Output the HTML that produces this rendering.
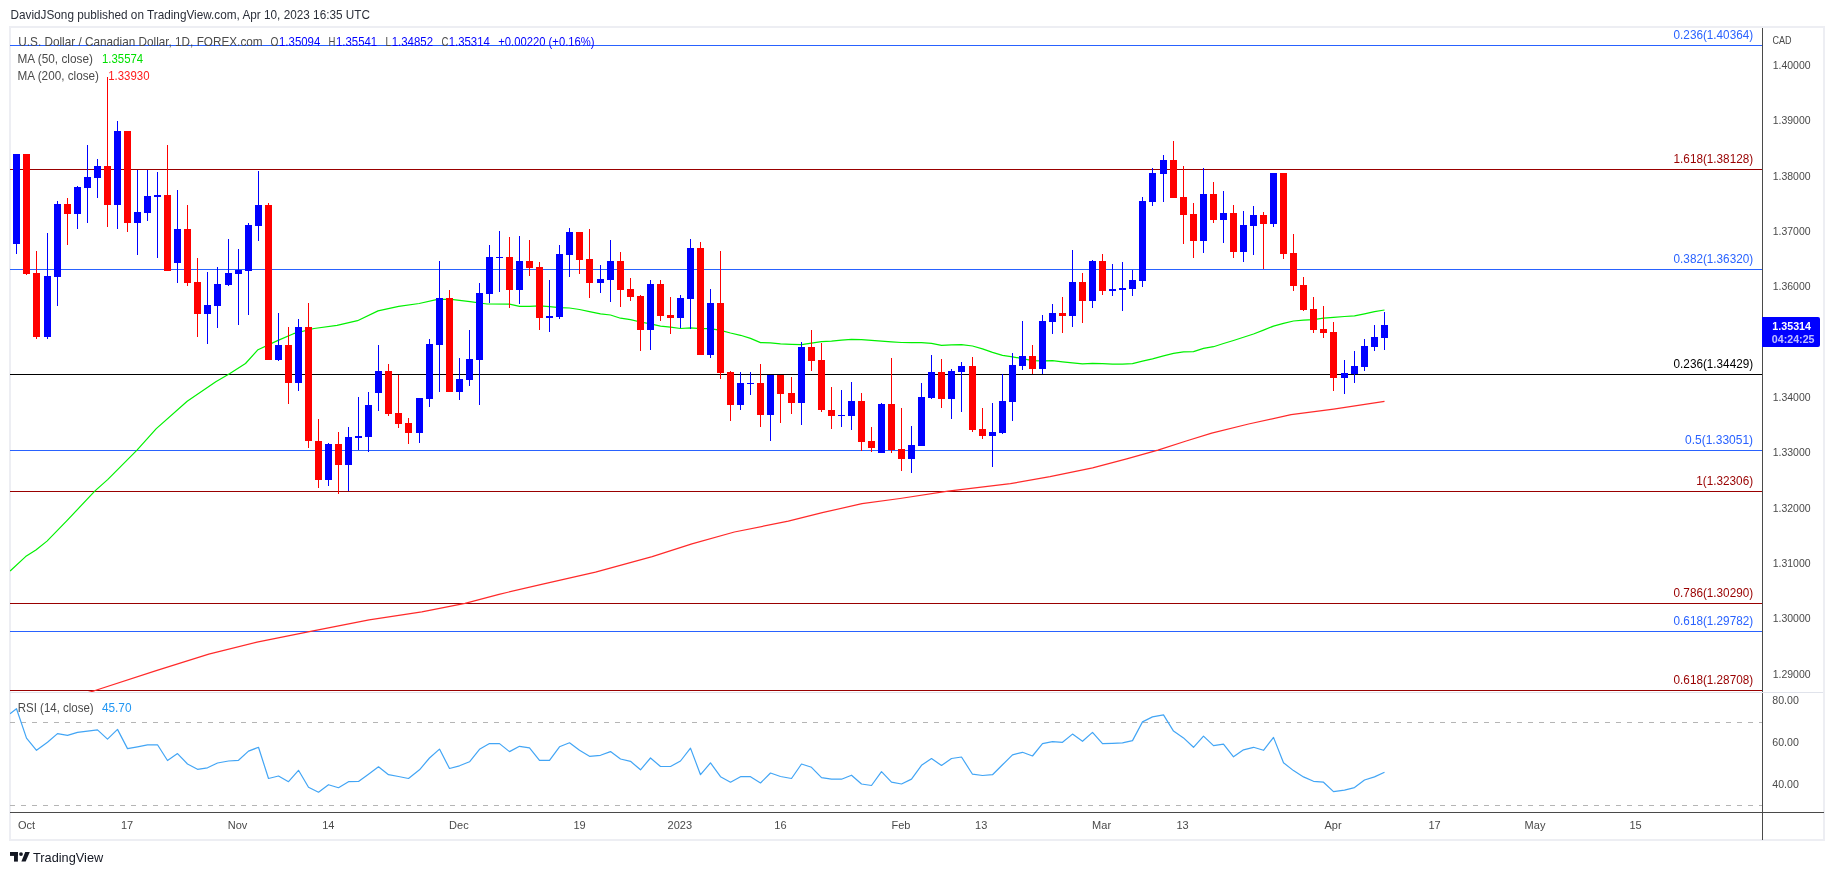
<!DOCTYPE html><html><head><meta charset="utf-8"><style>html,body{margin:0;padding:0;background:#fff;width:1834px;height:875px;overflow:hidden}svg{display:block;will-change:transform}text{font-family:"Liberation Sans", sans-serif}</style></head><body>
<svg width="1834" height="875" viewBox="0 0 1834 875">
<defs><clipPath id="mp"><rect x="10" y="28" width="1752" height="664"/></clipPath><clipPath id="rp"><rect x="10" y="693" width="1752" height="119"/></clipPath></defs>
<text x="10.5" y="18.7" font-size="12.8" fill="#2a2e39" textLength="359.5" lengthAdjust="spacingAndGlyphs">DavidJSong published on TradingView.com, Apr 10, 2023 16:35 UTC</text>
<g shape-rendering="crispEdges"><rect x="10" y="26" width="1815" height="2" fill="#edeef3"/><rect x="10" y="839" width="1815" height="2" fill="#edeef3"/><rect x="9" y="26" width="2" height="815" fill="#edeef3"/><rect x="1823" y="26" width="2" height="815" fill="#edeef3"/><rect x="10" y="692" width="1813" height="1" fill="#e0e3eb"/><rect x="1762" y="28" width="1" height="664" fill="#4a4a4a"/><rect x="1762" y="693" width="1" height="147" fill="#4a4a4a"/><rect x="10" y="812" width="1814" height="1" fill="#4a4a4a"/></g>
<g shape-rendering="crispEdges"><rect x="10" y="45" width="1752" height="1" fill="#2962ff"/><rect x="10" y="169" width="1752" height="1" fill="#990000"/><rect x="10" y="269" width="1752" height="1" fill="#2962ff"/><rect x="10" y="374" width="1752" height="1" fill="#000000"/><rect x="10" y="450" width="1752" height="1" fill="#2962ff"/><rect x="10" y="491" width="1752" height="1" fill="#990000"/><rect x="10" y="603" width="1752" height="1" fill="#990000"/><rect x="10" y="631" width="1752" height="1" fill="#2962ff"/><rect x="10" y="690" width="1752" height="1" fill="#990000"/></g>
<text x="1673.6" y="38.9" font-size="12.2" fill="#2962ff" textLength="79.5" lengthAdjust="spacingAndGlyphs">0.236(1.40364)</text><text x="1673.6" y="162.9" font-size="12.2" fill="#990000" textLength="79.5" lengthAdjust="spacingAndGlyphs">1.618(1.38128)</text><text x="1673.6" y="262.9" font-size="12.2" fill="#2962ff" textLength="79.5" lengthAdjust="spacingAndGlyphs">0.382(1.36320)</text><text x="1673.6" y="367.9" font-size="12.2" fill="#000000" textLength="79.5" lengthAdjust="spacingAndGlyphs">0.236(1.34429)</text><text x="1685.0" y="443.9" font-size="12.2" fill="#2962ff" textLength="68.1" lengthAdjust="spacingAndGlyphs">0.5(1.33051)</text><text x="1696.3" y="484.9" font-size="12.2" fill="#990000" textLength="56.8" lengthAdjust="spacingAndGlyphs">1(1.32306)</text><text x="1673.6" y="596.9" font-size="12.2" fill="#990000" textLength="79.5" lengthAdjust="spacingAndGlyphs">0.786(1.30290)</text><text x="1673.6" y="624.9" font-size="12.2" fill="#2962ff" textLength="79.5" lengthAdjust="spacingAndGlyphs">0.618(1.29782)</text><text x="1673.6" y="683.9" font-size="12.2" fill="#990000" textLength="79.5" lengthAdjust="spacingAndGlyphs">0.618(1.28708)</text>
<polyline clip-path="url(#mp)" fill="none" stroke="#ff2a2a" stroke-width="1.2" stroke-linejoin="round" points="88.0,692.6 94.3,690.8 156.2,670.6 208.8,654.1 257.0,642.2 311.9,631.2 369.1,619.8 421.8,611.8 465.0,603.4 499.0,594.3 541.6,584.4 595.5,572.2 652.2,556.6 691.9,543.9 734.4,532.0 788.3,521.2 822.3,512.7 862.0,503.6 900.0,498.5 948.0,491.2 1010.4,483.6 1050.0,476.7 1092.6,467.9 1126.7,458.9 1157.9,450.1 1186.2,441.0 1211.7,433.1 1248.6,424.0 1291.1,414.7 1333.6,409.1 1384.5,401.4"/>
<polyline clip-path="url(#mp)" fill="none" stroke="#00f000" stroke-width="1.2" stroke-linejoin="round" points="10.1,571.0 25.6,556.6 35.9,550.0 47.0,541.1 66.7,520.9 95.0,490.9 107.9,479.4 137.0,450.2 156.3,428.6 187.2,401.2 215.8,381.7 229.5,373.7 245.5,363.5 258.0,349.7 277.5,340.6 293.5,333.7 314.0,328.5 337.0,325.3 357.5,320.7 378.0,310.9 398.7,306.3 419.2,303.5 437.5,299.4 451.2,299.4 470.0,301.7 487.0,304.0 509.5,304.2 519.5,306.4 529.5,306.3 539.5,305.9 549.5,306.7 559.5,307.7 569.5,308.0 579.5,309.5 589.5,311.6 600.5,313.9 610.5,315.0 620.5,318.2 630.5,319.7 640.5,322.0 650.5,323.8 660.5,326.2 670.5,327.1 680.5,328.5 690.5,327.8 700.5,328.6 710.5,328.6 720.5,330.4 730.5,333.0 740.5,335.3 750.5,338.4 760.5,342.6 770.5,342.9 780.5,343.9 791.5,344.3 801.5,344.7 811.5,343.1 821.5,341.7 831.5,341.2 841.5,340.2 851.5,339.4 861.5,339.6 871.5,340.4 881.5,341.1 891.5,341.8 901.5,342.5 911.5,342.7 921.5,342.7 931.5,343.3 941.5,345.3 951.5,344.9 961.5,344.6 972.5,346.0 982.5,348.9 992.5,352.4 1002.5,355.3 1012.5,356.8 1022.5,358.7 1032.5,360.7 1042.5,360.8 1052.5,360.7 1062.5,361.9 1072.5,362.9 1082.5,363.8 1092.5,363.3 1102.5,363.6 1112.5,364.1 1122.5,364.1 1132.5,363.7 1142.5,361.2 1152.5,358.9 1163.5,355.8 1173.5,353.4 1183.5,351.8 1193.5,351.6 1203.5,348.4 1213.5,346.7 1223.5,343.5 1233.5,340.5 1243.5,337.3 1253.5,334.0 1263.5,330.1 1273.5,326.1 1283.5,323.3 1293.5,321.0 1303.5,320.2 1313.5,319.6 1323.5,318.1 1333.5,317.3 1344.5,316.5 1354.5,315.8 1364.5,313.8 1374.5,311.6 1384.5,310.0"/>
<g shape-rendering="crispEdges" clip-path="url(#mp)"><rect x="16" y="154" width="1" height="100" fill="#0000ff"/><rect x="13" y="154" width="7" height="90" fill="#0000ff"/><rect x="26" y="154" width="1" height="121" fill="#ff0000"/><rect x="23" y="154" width="7" height="120" fill="#ff0000"/><rect x="36" y="251" width="1" height="88" fill="#ff0000"/><rect x="33" y="273" width="7" height="64" fill="#ff0000"/><rect x="47" y="233" width="1" height="106" fill="#0000ff"/><rect x="44" y="276" width="7" height="61" fill="#0000ff"/><rect x="57" y="201" width="1" height="105" fill="#0000ff"/><rect x="54" y="204" width="7" height="73" fill="#0000ff"/><rect x="67" y="198" width="1" height="47" fill="#ff0000"/><rect x="64" y="204" width="7" height="10" fill="#ff0000"/><rect x="77" y="186" width="1" height="43" fill="#0000ff"/><rect x="74" y="187" width="7" height="27" fill="#0000ff"/><rect x="87" y="145" width="1" height="78" fill="#0000ff"/><rect x="84" y="177" width="7" height="11" fill="#0000ff"/><rect x="97" y="159" width="1" height="39" fill="#0000ff"/><rect x="94" y="166" width="7" height="12" fill="#0000ff"/><rect x="107" y="77" width="1" height="150" fill="#ff0000"/><rect x="104" y="166" width="7" height="39" fill="#ff0000"/><rect x="117" y="121" width="1" height="108" fill="#0000ff"/><rect x="114" y="131" width="7" height="74" fill="#0000ff"/><rect x="127" y="131" width="1" height="101" fill="#ff0000"/><rect x="124" y="131" width="7" height="92" fill="#ff0000"/><rect x="137" y="170" width="1" height="85" fill="#0000ff"/><rect x="134" y="212" width="7" height="11" fill="#0000ff"/><rect x="147" y="170" width="1" height="51" fill="#0000ff"/><rect x="144" y="196" width="7" height="17" fill="#0000ff"/><rect x="157" y="172" width="1" height="86" fill="#0000ff"/><rect x="154" y="195" width="7" height="2" fill="#0000ff"/><rect x="167" y="145" width="1" height="126" fill="#ff0000"/><rect x="164" y="195" width="7" height="76" fill="#ff0000"/><rect x="177" y="190" width="1" height="93" fill="#0000ff"/><rect x="174" y="229" width="7" height="34" fill="#0000ff"/><rect x="187" y="205" width="1" height="81" fill="#ff0000"/><rect x="184" y="229" width="7" height="54" fill="#ff0000"/><rect x="197" y="258" width="1" height="79" fill="#ff0000"/><rect x="194" y="282" width="7" height="32" fill="#ff0000"/><rect x="207" y="272" width="1" height="72" fill="#0000ff"/><rect x="204" y="305" width="7" height="9" fill="#0000ff"/><rect x="217" y="267" width="1" height="61" fill="#0000ff"/><rect x="214" y="284" width="7" height="22" fill="#0000ff"/><rect x="228" y="239" width="1" height="47" fill="#0000ff"/><rect x="225" y="273" width="7" height="12" fill="#0000ff"/><rect x="238" y="249" width="1" height="76" fill="#0000ff"/><rect x="235" y="270" width="7" height="4" fill="#0000ff"/><rect x="248" y="223" width="1" height="92" fill="#0000ff"/><rect x="245" y="225" width="7" height="46" fill="#0000ff"/><rect x="258" y="171" width="1" height="70" fill="#0000ff"/><rect x="255" y="205" width="7" height="21" fill="#0000ff"/><rect x="268" y="203" width="1" height="157" fill="#ff0000"/><rect x="265" y="205" width="7" height="155" fill="#ff0000"/><rect x="278" y="313" width="1" height="48" fill="#0000ff"/><rect x="275" y="345" width="7" height="15" fill="#0000ff"/><rect x="288" y="327" width="1" height="77" fill="#ff0000"/><rect x="285" y="345" width="7" height="38" fill="#ff0000"/><rect x="298" y="319" width="1" height="72" fill="#0000ff"/><rect x="295" y="327" width="7" height="56" fill="#0000ff"/><rect x="308" y="303" width="1" height="145" fill="#ff0000"/><rect x="305" y="327" width="7" height="114" fill="#ff0000"/><rect x="318" y="419" width="1" height="69" fill="#ff0000"/><rect x="315" y="441" width="7" height="39" fill="#ff0000"/><rect x="328" y="443" width="1" height="43" fill="#0000ff"/><rect x="325" y="444" width="7" height="36" fill="#0000ff"/><rect x="338" y="432" width="1" height="62" fill="#ff0000"/><rect x="335" y="444" width="7" height="21" fill="#ff0000"/><rect x="348" y="427" width="1" height="64" fill="#0000ff"/><rect x="345" y="437" width="7" height="28" fill="#0000ff"/><rect x="358" y="397" width="1" height="53" fill="#0000ff"/><rect x="355" y="436" width="7" height="2" fill="#0000ff"/><rect x="368" y="392" width="1" height="60" fill="#0000ff"/><rect x="365" y="405" width="7" height="32" fill="#0000ff"/><rect x="378" y="345" width="1" height="66" fill="#0000ff"/><rect x="375" y="371" width="7" height="22" fill="#0000ff"/><rect x="388" y="364" width="1" height="52" fill="#ff0000"/><rect x="385" y="371" width="7" height="43" fill="#ff0000"/><rect x="398" y="375" width="1" height="53" fill="#ff0000"/><rect x="395" y="413" width="7" height="11" fill="#ff0000"/><rect x="408" y="418" width="1" height="26" fill="#ff0000"/><rect x="405" y="423" width="7" height="10" fill="#ff0000"/><rect x="419" y="398" width="1" height="45" fill="#0000ff"/><rect x="416" y="398" width="7" height="35" fill="#0000ff"/><rect x="429" y="339" width="1" height="68" fill="#0000ff"/><rect x="426" y="344" width="7" height="55" fill="#0000ff"/><rect x="439" y="261" width="1" height="131" fill="#0000ff"/><rect x="436" y="298" width="7" height="47" fill="#0000ff"/><rect x="449" y="290" width="1" height="102" fill="#ff0000"/><rect x="446" y="298" width="7" height="94" fill="#ff0000"/><rect x="459" y="358" width="1" height="42" fill="#0000ff"/><rect x="456" y="379" width="7" height="13" fill="#0000ff"/><rect x="469" y="330" width="1" height="56" fill="#0000ff"/><rect x="466" y="359" width="7" height="21" fill="#0000ff"/><rect x="479" y="283" width="1" height="122" fill="#0000ff"/><rect x="476" y="293" width="7" height="67" fill="#0000ff"/><rect x="489" y="245" width="1" height="58" fill="#0000ff"/><rect x="486" y="257" width="7" height="37" fill="#0000ff"/><rect x="499" y="231" width="1" height="61" fill="#0000ff"/><rect x="496" y="257" width="7" height="1" fill="#0000ff"/><rect x="509" y="237" width="1" height="71" fill="#ff0000"/><rect x="506" y="257" width="7" height="33" fill="#ff0000"/><rect x="519" y="236" width="1" height="68" fill="#0000ff"/><rect x="516" y="261" width="7" height="29" fill="#0000ff"/><rect x="529" y="240" width="1" height="36" fill="#ff0000"/><rect x="526" y="261" width="7" height="7" fill="#ff0000"/><rect x="539" y="262" width="1" height="68" fill="#ff0000"/><rect x="536" y="267" width="7" height="51" fill="#ff0000"/><rect x="549" y="280" width="1" height="52" fill="#0000ff"/><rect x="546" y="316" width="7" height="2" fill="#0000ff"/><rect x="559" y="245" width="1" height="74" fill="#0000ff"/><rect x="556" y="254" width="7" height="63" fill="#0000ff"/><rect x="569" y="228" width="1" height="49" fill="#0000ff"/><rect x="566" y="232" width="7" height="23" fill="#0000ff"/><rect x="579" y="232" width="1" height="42" fill="#ff0000"/><rect x="576" y="232" width="7" height="28" fill="#ff0000"/><rect x="589" y="229" width="1" height="69" fill="#ff0000"/><rect x="586" y="259" width="7" height="24" fill="#ff0000"/><rect x="600" y="265" width="1" height="28" fill="#0000ff"/><rect x="597" y="279" width="7" height="4" fill="#0000ff"/><rect x="610" y="240" width="1" height="62" fill="#0000ff"/><rect x="607" y="261" width="7" height="19" fill="#0000ff"/><rect x="620" y="252" width="1" height="55" fill="#ff0000"/><rect x="617" y="261" width="7" height="29" fill="#ff0000"/><rect x="630" y="278" width="1" height="23" fill="#ff0000"/><rect x="627" y="289" width="7" height="8" fill="#ff0000"/><rect x="640" y="295" width="1" height="56" fill="#ff0000"/><rect x="637" y="296" width="7" height="34" fill="#ff0000"/><rect x="650" y="280" width="1" height="70" fill="#0000ff"/><rect x="647" y="284" width="7" height="46" fill="#0000ff"/><rect x="660" y="280" width="1" height="41" fill="#ff0000"/><rect x="657" y="284" width="7" height="32" fill="#ff0000"/><rect x="670" y="297" width="1" height="37" fill="#ff0000"/><rect x="667" y="315" width="7" height="3" fill="#ff0000"/><rect x="680" y="295" width="1" height="33" fill="#0000ff"/><rect x="677" y="298" width="7" height="20" fill="#0000ff"/><rect x="690" y="239" width="1" height="90" fill="#0000ff"/><rect x="687" y="248" width="7" height="51" fill="#0000ff"/><rect x="700" y="242" width="1" height="113" fill="#ff0000"/><rect x="697" y="248" width="7" height="107" fill="#ff0000"/><rect x="710" y="289" width="1" height="69" fill="#0000ff"/><rect x="707" y="303" width="7" height="52" fill="#0000ff"/><rect x="720" y="251" width="1" height="128" fill="#ff0000"/><rect x="717" y="303" width="7" height="70" fill="#ff0000"/><rect x="730" y="371" width="1" height="50" fill="#ff0000"/><rect x="727" y="372" width="7" height="33" fill="#ff0000"/><rect x="740" y="372" width="1" height="38" fill="#0000ff"/><rect x="737" y="383" width="7" height="22" fill="#0000ff"/><rect x="750" y="372" width="1" height="23" fill="#0000ff"/><rect x="747" y="383" width="7" height="1" fill="#0000ff"/><rect x="760" y="364" width="1" height="63" fill="#ff0000"/><rect x="757" y="383" width="7" height="32" fill="#ff0000"/><rect x="770" y="375" width="1" height="66" fill="#0000ff"/><rect x="767" y="375" width="7" height="40" fill="#0000ff"/><rect x="780" y="375" width="1" height="48" fill="#ff0000"/><rect x="777" y="375" width="7" height="19" fill="#ff0000"/><rect x="791" y="377" width="1" height="37" fill="#ff0000"/><rect x="788" y="393" width="7" height="10" fill="#ff0000"/><rect x="801" y="342" width="1" height="83" fill="#0000ff"/><rect x="798" y="347" width="7" height="56" fill="#0000ff"/><rect x="811" y="330" width="1" height="41" fill="#ff0000"/><rect x="808" y="347" width="7" height="14" fill="#ff0000"/><rect x="821" y="343" width="1" height="69" fill="#ff0000"/><rect x="818" y="360" width="7" height="50" fill="#ff0000"/><rect x="831" y="387" width="1" height="42" fill="#ff0000"/><rect x="828" y="410" width="7" height="6" fill="#ff0000"/><rect x="841" y="390" width="1" height="37" fill="#0000ff"/><rect x="838" y="415" width="7" height="1" fill="#0000ff"/><rect x="851" y="382" width="1" height="48" fill="#0000ff"/><rect x="848" y="401" width="7" height="15" fill="#0000ff"/><rect x="861" y="393" width="1" height="58" fill="#ff0000"/><rect x="858" y="401" width="7" height="41" fill="#ff0000"/><rect x="871" y="427" width="1" height="25" fill="#ff0000"/><rect x="868" y="441" width="7" height="7" fill="#ff0000"/><rect x="881" y="403" width="1" height="50" fill="#0000ff"/><rect x="878" y="404" width="7" height="49" fill="#0000ff"/><rect x="891" y="358" width="1" height="95" fill="#ff0000"/><rect x="888" y="404" width="7" height="46" fill="#ff0000"/><rect x="901" y="408" width="1" height="63" fill="#ff0000"/><rect x="898" y="449" width="7" height="10" fill="#ff0000"/><rect x="911" y="426" width="1" height="47" fill="#0000ff"/><rect x="908" y="445" width="7" height="14" fill="#0000ff"/><rect x="921" y="383" width="1" height="63" fill="#0000ff"/><rect x="918" y="397" width="7" height="49" fill="#0000ff"/><rect x="931" y="355" width="1" height="44" fill="#0000ff"/><rect x="928" y="372" width="7" height="26" fill="#0000ff"/><rect x="941" y="359" width="1" height="49" fill="#ff0000"/><rect x="938" y="372" width="7" height="27" fill="#ff0000"/><rect x="951" y="369" width="1" height="50" fill="#0000ff"/><rect x="948" y="371" width="7" height="28" fill="#0000ff"/><rect x="961" y="362" width="1" height="50" fill="#0000ff"/><rect x="958" y="366" width="7" height="6" fill="#0000ff"/><rect x="972" y="357" width="1" height="75" fill="#ff0000"/><rect x="969" y="366" width="7" height="64" fill="#ff0000"/><rect x="982" y="408" width="1" height="31" fill="#ff0000"/><rect x="979" y="429" width="7" height="7" fill="#ff0000"/><rect x="992" y="403" width="1" height="64" fill="#0000ff"/><rect x="989" y="432" width="7" height="4" fill="#0000ff"/><rect x="1002" y="374" width="1" height="60" fill="#0000ff"/><rect x="999" y="401" width="7" height="32" fill="#0000ff"/><rect x="1012" y="353" width="1" height="68" fill="#0000ff"/><rect x="1009" y="365" width="7" height="37" fill="#0000ff"/><rect x="1022" y="321" width="1" height="49" fill="#0000ff"/><rect x="1019" y="356" width="7" height="10" fill="#0000ff"/><rect x="1032" y="345" width="1" height="29" fill="#ff0000"/><rect x="1029" y="356" width="7" height="13" fill="#ff0000"/><rect x="1042" y="315" width="1" height="59" fill="#0000ff"/><rect x="1039" y="321" width="7" height="48" fill="#0000ff"/><rect x="1052" y="304" width="1" height="30" fill="#0000ff"/><rect x="1049" y="313" width="7" height="9" fill="#0000ff"/><rect x="1062" y="297" width="1" height="36" fill="#ff0000"/><rect x="1059" y="313" width="7" height="3" fill="#ff0000"/><rect x="1072" y="250" width="1" height="77" fill="#0000ff"/><rect x="1069" y="282" width="7" height="34" fill="#0000ff"/><rect x="1082" y="273" width="1" height="50" fill="#ff0000"/><rect x="1079" y="282" width="7" height="19" fill="#ff0000"/><rect x="1092" y="260" width="1" height="48" fill="#0000ff"/><rect x="1089" y="261" width="7" height="40" fill="#0000ff"/><rect x="1102" y="254" width="1" height="41" fill="#ff0000"/><rect x="1099" y="261" width="7" height="30" fill="#ff0000"/><rect x="1112" y="264" width="1" height="32" fill="#0000ff"/><rect x="1109" y="289" width="7" height="2" fill="#0000ff"/><rect x="1122" y="262" width="1" height="49" fill="#0000ff"/><rect x="1119" y="288" width="7" height="2" fill="#0000ff"/><rect x="1132" y="270" width="1" height="26" fill="#0000ff"/><rect x="1129" y="280" width="7" height="9" fill="#0000ff"/><rect x="1142" y="197" width="1" height="90" fill="#0000ff"/><rect x="1139" y="201" width="7" height="80" fill="#0000ff"/><rect x="1152" y="168" width="1" height="38" fill="#0000ff"/><rect x="1149" y="173" width="7" height="29" fill="#0000ff"/><rect x="1163" y="155" width="1" height="47" fill="#0000ff"/><rect x="1160" y="160" width="7" height="14" fill="#0000ff"/><rect x="1173" y="141" width="1" height="57" fill="#ff0000"/><rect x="1170" y="160" width="7" height="38" fill="#ff0000"/><rect x="1183" y="166" width="1" height="78" fill="#ff0000"/><rect x="1180" y="197" width="7" height="18" fill="#ff0000"/><rect x="1193" y="203" width="1" height="55" fill="#ff0000"/><rect x="1190" y="214" width="7" height="27" fill="#ff0000"/><rect x="1203" y="168" width="1" height="85" fill="#0000ff"/><rect x="1200" y="194" width="7" height="47" fill="#0000ff"/><rect x="1213" y="182" width="1" height="41" fill="#ff0000"/><rect x="1210" y="194" width="7" height="26" fill="#ff0000"/><rect x="1223" y="191" width="1" height="52" fill="#0000ff"/><rect x="1220" y="213" width="7" height="7" fill="#0000ff"/><rect x="1233" y="205" width="1" height="53" fill="#ff0000"/><rect x="1230" y="213" width="7" height="39" fill="#ff0000"/><rect x="1243" y="211" width="1" height="51" fill="#0000ff"/><rect x="1240" y="225" width="7" height="27" fill="#0000ff"/><rect x="1253" y="206" width="1" height="49" fill="#0000ff"/><rect x="1250" y="215" width="7" height="11" fill="#0000ff"/><rect x="1263" y="212" width="1" height="57" fill="#ff0000"/><rect x="1260" y="215" width="7" height="9" fill="#ff0000"/><rect x="1273" y="173" width="1" height="54" fill="#0000ff"/><rect x="1270" y="173" width="7" height="51" fill="#0000ff"/><rect x="1283" y="173" width="1" height="86" fill="#ff0000"/><rect x="1280" y="173" width="7" height="81" fill="#ff0000"/><rect x="1293" y="234" width="1" height="57" fill="#ff0000"/><rect x="1290" y="253" width="7" height="33" fill="#ff0000"/><rect x="1303" y="277" width="1" height="34" fill="#ff0000"/><rect x="1300" y="285" width="7" height="25" fill="#ff0000"/><rect x="1313" y="297" width="1" height="36" fill="#ff0000"/><rect x="1310" y="309" width="7" height="21" fill="#ff0000"/><rect x="1323" y="306" width="1" height="32" fill="#ff0000"/><rect x="1320" y="329" width="7" height="4" fill="#ff0000"/><rect x="1333" y="322" width="1" height="69" fill="#ff0000"/><rect x="1330" y="332" width="7" height="46" fill="#ff0000"/><rect x="1344" y="360" width="1" height="34" fill="#0000ff"/><rect x="1341" y="373" width="7" height="5" fill="#0000ff"/><rect x="1354" y="351" width="1" height="32" fill="#0000ff"/><rect x="1351" y="366" width="7" height="8" fill="#0000ff"/><rect x="1364" y="339" width="1" height="32" fill="#0000ff"/><rect x="1361" y="346" width="7" height="21" fill="#0000ff"/><rect x="1374" y="325" width="1" height="26" fill="#0000ff"/><rect x="1371" y="337" width="7" height="10" fill="#0000ff"/><rect x="1384" y="312" width="1" height="38" fill="#0000ff"/><rect x="1381" y="325" width="7" height="13" fill="#0000ff"/></g>
<text y="45.6" font-size="12.4" fill="#4a4a4a"><tspan x="18.3" textLength="244.3" lengthAdjust="spacingAndGlyphs">U.S. Dollar / Canadian Dollar, 1D, FOREX.com</tspan></text><text x="270.6" y="45.6" font-size="12.4" fill="#4a4a4a" textLength="7.9" lengthAdjust="spacingAndGlyphs">O</text><text x="279.0" y="45.6" font-size="12.4" fill="#0000ff" textLength="41.3" lengthAdjust="spacingAndGlyphs">1.35094</text><text x="328.5" y="45.6" font-size="12.4" fill="#4a4a4a" textLength="6.9" lengthAdjust="spacingAndGlyphs">H</text><text x="336.0" y="45.6" font-size="12.4" fill="#0000ff" textLength="41.2" lengthAdjust="spacingAndGlyphs">1.35541</text><text x="385.5" y="45.6" font-size="12.4" fill="#4a4a4a" textLength="5.5" lengthAdjust="spacingAndGlyphs">L</text><text x="391.7" y="45.6" font-size="12.4" fill="#0000ff" textLength="41.3" lengthAdjust="spacingAndGlyphs">1.34852</text><text x="441.4" y="45.6" font-size="12.4" fill="#4a4a4a" textLength="6.9" lengthAdjust="spacingAndGlyphs">C</text><text x="448.7" y="45.6" font-size="12.4" fill="#0000ff" textLength="41.2" lengthAdjust="spacingAndGlyphs">1.35314</text><text x="498.3" y="45.6" font-size="12.4" fill="#0000ff" textLength="96.2" lengthAdjust="spacingAndGlyphs">+0.00220 (+0.16%)</text><text x="17.5" y="63.0" font-size="12.4" fill="#4a4a4a" textLength="75.4" lengthAdjust="spacingAndGlyphs">MA (50, close)</text><text x="102" y="63.0" font-size="12.4" fill="#00e000" textLength="41.1" lengthAdjust="spacingAndGlyphs">1.35574</text><text x="17.5" y="80.0" font-size="12.4" fill="#4a4a4a" textLength="81.5" lengthAdjust="spacingAndGlyphs">MA (200, close)</text><text x="108.2" y="80.0" font-size="12.4" fill="#ff1a1a" textLength="41.3" lengthAdjust="spacingAndGlyphs">1.33930</text>
<text x="1772.4" y="43.9" font-size="10.4" fill="#4a4a4a" textLength="19.1" lengthAdjust="spacingAndGlyphs">CAD</text><text x="1772.7" y="68.9" font-size="10.4" fill="#4a4a4a" textLength="37.9" lengthAdjust="spacingAndGlyphs">1.40000</text><text x="1772.7" y="124.3" font-size="10.4" fill="#4a4a4a" textLength="37.9" lengthAdjust="spacingAndGlyphs">1.39000</text><text x="1772.7" y="179.6" font-size="10.4" fill="#4a4a4a" textLength="37.9" lengthAdjust="spacingAndGlyphs">1.38000</text><text x="1772.7" y="235.0" font-size="10.4" fill="#4a4a4a" textLength="37.9" lengthAdjust="spacingAndGlyphs">1.37000</text><text x="1772.7" y="290.3" font-size="10.4" fill="#4a4a4a" textLength="37.9" lengthAdjust="spacingAndGlyphs">1.36000</text><text x="1772.7" y="401.0" font-size="10.4" fill="#4a4a4a" textLength="37.9" lengthAdjust="spacingAndGlyphs">1.34000</text><text x="1772.7" y="456.3" font-size="10.4" fill="#4a4a4a" textLength="37.9" lengthAdjust="spacingAndGlyphs">1.33000</text><text x="1772.7" y="511.6" font-size="10.4" fill="#4a4a4a" textLength="37.9" lengthAdjust="spacingAndGlyphs">1.32000</text><text x="1772.7" y="567.0" font-size="10.4" fill="#4a4a4a" textLength="37.9" lengthAdjust="spacingAndGlyphs">1.31000</text><text x="1772.7" y="622.3" font-size="10.4" fill="#4a4a4a" textLength="37.9" lengthAdjust="spacingAndGlyphs">1.30000</text><text x="1772.7" y="677.6" font-size="10.4" fill="#4a4a4a" textLength="37.9" lengthAdjust="spacingAndGlyphs">1.29000</text>
<path d="M1762,317 H1818 Q1820,317 1820,319 V345 Q1820,347 1818,347 H1762 Z" fill="#0000ff"/>
<text x="1772.3" y="330.2" font-size="10.4" font-weight="bold" fill="#fff" textLength="38.7" lengthAdjust="spacingAndGlyphs">1.35314</text>
<text x="1771.8" y="343" font-size="10.4" font-weight="bold" fill="#fff" fill-opacity="0.75" textLength="42.7" lengthAdjust="spacingAndGlyphs">04:24:25</text>
<g shape-rendering="crispEdges"><line x1="10" y1="722.5" x2="1762" y2="722.5" stroke="#b5b5b5" stroke-width="1" stroke-dasharray="5,6"/><line x1="10" y1="805.5" x2="1762" y2="805.5" stroke="#b5b5b5" stroke-width="1" stroke-dasharray="5,6"/></g>
<polyline clip-path="url(#rp)" fill="none" stroke="#42a5f5" stroke-width="1.2" stroke-linejoin="round" points="10.0,713.7 16.5,708.7 26.5,738.1 36.5,750.3 47.5,742.3 57.5,733.6 67.5,735.4 77.5,732.4 87.5,731.1 97.5,729.9 107.5,739.1 117.5,729.4 127.5,748.6 137.5,746.8 147.5,744.8 157.5,744.8 167.5,760.5 177.5,753.6 187.5,764.0 197.5,769.3 207.5,767.8 217.5,763.0 228.5,761.0 238.5,760.3 248.5,751.1 258.5,747.3 268.5,778.5 278.5,776.0 288.5,781.7 298.5,770.3 308.5,787.2 318.5,792.2 328.5,784.7 338.5,787.7 348.5,781.7 358.5,781.5 368.5,774.2 378.5,766.8 388.5,774.7 398.5,776.5 408.5,778.5 419.5,769.8 429.5,758.0 439.5,749.1 449.5,768.5 459.5,765.8 469.5,761.8 479.5,749.3 489.5,743.6 499.5,743.6 509.5,751.6 519.5,746.3 529.5,747.8 539.5,760.3 549.5,760.3 559.5,746.8 569.5,742.8 579.5,750.3 589.5,756.3 600.5,755.3 610.5,751.6 620.5,759.0 630.5,761.3 640.5,769.8 650.5,758.0 660.5,766.5 670.5,766.5 680.5,761.0 690.5,748.1 700.5,774.7 710.5,762.8 720.5,776.7 730.5,782.2 740.5,776.7 750.5,776.7 760.5,783.0 770.5,773.0 780.5,776.5 791.5,778.5 801.5,764.0 811.5,767.3 821.5,777.7 831.5,779.2 841.5,779.2 851.5,775.2 861.5,784.0 871.5,785.5 881.5,771.7 891.5,782.2 901.5,784.0 911.5,779.1 921.5,765.3 931.5,758.5 941.5,765.5 951.5,758.5 961.5,757.0 972.5,774.2 982.5,775.5 992.5,774.7 1002.5,764.8 1012.5,754.8 1022.5,752.3 1032.5,756.0 1042.5,743.6 1052.5,741.6 1062.5,742.3 1072.5,734.1 1082.5,741.3 1092.5,732.4 1102.5,743.6 1112.5,743.3 1122.5,742.8 1132.5,740.6 1142.5,721.9 1152.5,716.9 1163.5,714.9 1173.5,731.1 1183.5,737.9 1193.5,747.3 1203.5,736.1 1213.5,745.6 1223.5,744.1 1233.5,756.8 1243.5,749.8 1253.5,747.3 1263.5,750.3 1273.5,737.4 1283.5,762.8 1293.5,770.6 1303.5,776.9 1313.5,781.3 1323.5,782.2 1333.5,791.6 1344.5,790.2 1354.5,787.6 1364.5,780.0 1374.5,776.9 1384.5,772.3"/>
<text x="17.8" y="712.3" font-size="12.4" fill="#4a4a4a" textLength="75.8" lengthAdjust="spacingAndGlyphs">RSI (14, close)</text><text x="101.9" y="712.3" font-size="12.4" fill="#2196f3" textLength="29.6" lengthAdjust="spacingAndGlyphs">45.70</text><text x="1772.3" y="704.3" font-size="10.4" fill="#4a4a4a" textLength="26.6" lengthAdjust="spacingAndGlyphs">80.00</text><text x="1772.3" y="746.4" font-size="10.4" fill="#4a4a4a" textLength="26.6" lengthAdjust="spacingAndGlyphs">60.00</text><text x="1772.3" y="788.0" font-size="10.4" fill="#4a4a4a" textLength="26.6" lengthAdjust="spacingAndGlyphs">40.00</text>
<text x="26.5" y="829.1" font-size="11" fill="#4a4a4a" text-anchor="middle">Oct</text><text x="127.0" y="829.1" font-size="11" fill="#4a4a4a" text-anchor="middle">17</text><text x="237.6" y="829.1" font-size="11" fill="#4a4a4a" text-anchor="middle">Nov</text><text x="328.3" y="829.1" font-size="11" fill="#4a4a4a" text-anchor="middle">14</text><text x="458.9" y="829.1" font-size="11" fill="#4a4a4a" text-anchor="middle">Dec</text><text x="579.6" y="829.1" font-size="11" fill="#4a4a4a" text-anchor="middle">19</text><text x="679.8" y="829.1" font-size="11" fill="#4a4a4a" text-anchor="middle">2023</text><text x="780.4" y="829.1" font-size="11" fill="#4a4a4a" text-anchor="middle">16</text><text x="901.0" y="829.1" font-size="11" fill="#4a4a4a" text-anchor="middle">Feb</text><text x="981.2" y="829.1" font-size="11" fill="#4a4a4a" text-anchor="middle">13</text><text x="1101.6" y="829.1" font-size="11" fill="#4a4a4a" text-anchor="middle">Mar</text><text x="1182.5" y="829.1" font-size="11" fill="#4a4a4a" text-anchor="middle">13</text><text x="1333.0" y="829.1" font-size="11" fill="#4a4a4a" text-anchor="middle">Apr</text><text x="1434.5" y="829.1" font-size="11" fill="#4a4a4a" text-anchor="middle">17</text><text x="1535.0" y="829.1" font-size="11" fill="#4a4a4a" text-anchor="middle">May</text><text x="1635.5" y="829.1" font-size="11" fill="#4a4a4a" text-anchor="middle">15</text>
<g fill="#131722"><rect x="10" y="852" width="7.9" height="3.9"/><rect x="14" y="852" width="3.9" height="9.6"/><circle cx="21" cy="854.1" r="1.9"/><polygon points="25.2,852 29.8,852 25.7,861.6 21.4,861.6"/></g>
<text x="33" y="861.9" font-size="12.7" fill="#131722" textLength="70.2" lengthAdjust="spacingAndGlyphs">TradingView</text>
</svg></body></html>
